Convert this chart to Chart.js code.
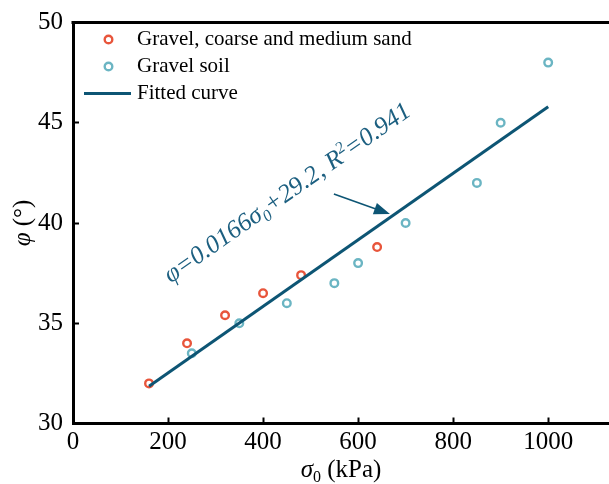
<!DOCTYPE html>
<html>
<head>
<meta charset="utf-8">
<script src="https://cdn.jsdelivr.net/npm/chart.js@4.4.1/dist/chart.umd.min.js"></script>
<style>
html, body { margin:0; padding:0; background:#fff; }
</style>
</head>
<body>
<canvas id="chartFirst" width="609" height="484"></canvas>
<script>
// ---- data
const sandX = [160, 240, 320, 400, 480, 640];
const sandY = [32, 34, 35.4, 36.5, 37.4, 38.8];
const soilX = [250, 350, 450, 550, 600, 700, 850, 900, 1000];
const soilY = [33.5, 35, 36, 37, 38, 40, 42, 45, 48];
// fitted: phi = 0.0166*sigma0 + 29.2
const fitX = [160, 1000];
const fitY = [31.86, 45.8];
const xTicks = [0, 200, 400, 600, 800, 1000];
const yTicks = [30, 35, 40, 45, 50];
const seriesNames = ['Gravel, coarse and medium sand', 'Gravel soil', 'Fitted curve'];
// annotation: text anchor and arrow (data units)
const noteAt = [460, 41.2];
const arrowFrom = [549, 41.45];
const arrowTo = [667, 40.45];

const FONT = '"Liberation Serif", "Times New Roman", serif';
const RED = '#e8553b';
const TEAL = '#6bb5c3';
const DARK = '#0d5574';

function toPoints(xs, ys){
  return xs.map((x, i) => ({x: x, y: ys[i]}));
}

// draw text made of pieces (normal / sub / sup)
function richWidth(c, parts, size, italic){
  let w = 0;
  parts.forEach(p => {
    let fs = (p[1] === 'n') ? size : size * 0.64;
    c.font = (p[2] !== undefined ? p[2] : italic ? 'italic ' : '') + fs + 'px ' + FONT;
    w += c.measureText(p[0]).width;
  });
  return w;
}
function drawRich(c, parts, x, y, size, italic){
  parts.forEach(p => {
    let fs = size, dy = 0;
    if (p[1] === 'sub'){ fs = size * 0.64; dy = size * 0.2; }
    if (p[1] === 'sup'){ fs = size * 0.64; dy = -size * 0.36; }
    c.font = (p[2] !== undefined ? p[2] : italic ? 'italic ' : '') + fs + 'px ' + FONT;
    c.fillText(p[0], x, y + dy);
    x += c.measureText(p[0]).width;
  });
}

const decorPlugin = {
  id: 'decor',
  afterDraw(chart){
    const c = chart.ctx, a = chart.chartArea;
    const xs = chart.scales.x, ys = chart.scales.y;
    c.save();

    // top frame line
    c.strokeStyle = '#000';
    c.lineWidth = 3;
    c.beginPath();
    c.moveTo(a.left - 1.5, a.top);
    c.lineTo(a.right, a.top);
    c.stroke();

    // legend
    c.textBaseline = 'middle';
    c.fillStyle = '#000';
    chart.data.datasets.forEach((ds, i) => {
      const y = a.top + 17 + i * 27;
      const cx = a.left + 35.5;
      c.strokeStyle = ds.borderColor;
      if (ds.type === 'line'){
        c.lineWidth = 3;
        c.beginPath();
        c.moveTo(a.left + 11, y);
        c.lineTo(a.left + 58, y);
        c.stroke();
      } else {
        c.lineWidth = 2.4;
        c.beginPath();
        c.arc(cx, y, 3.8, 0, Math.PI * 2);
        c.stroke();
      }
      c.font = '21px ' + FONT;
      c.fillText(ds.label, a.left + 64, y);
    });

    // axis titles
    c.textBaseline = 'alphabetic';
    c.fillStyle = '#000';
    const xParts = [['σ', 'n', 'italic '], ['0', 'sub', ''], [' (kPa)', 'n', '']];
    let w = richWidth(c, xParts, 25, false);
    drawRich(c, xParts, (a.left + a.right) / 2 - w / 2, 477, 25, false);

    const yParts = [['φ', 'n', 'italic '], [' (°)', 'n', '']];
    w = richWidth(c, yParts, 25, false);
    c.save();
    c.translate(30, (a.top + a.bottom) / 2);
    c.rotate(-Math.PI / 2);
    drawRich(c, yParts, -w / 2, 0, 25, false);
    c.restore();

    // equation along the fitted line
    const ang = Math.atan2(ys.getPixelForValue(fitY[1]) - ys.getPixelForValue(fitY[0]),
                           xs.getPixelForValue(fitX[1]) - xs.getPixelForValue(fitX[0]));
    const eq = [['φ=0.0166σ', 'n'], ['0', 'sub'], ['+29.2, ', 'n'], ['R', 'n'], ['2', 'sup'], ['=0.941', 'n']];
    c.fillStyle = '#1c5f80';
    c.save();
    c.translate(xs.getPixelForValue(noteAt[0]), ys.getPixelForValue(noteAt[1]));
    c.rotate(ang);
    w = richWidth(c, eq, 25.5, true);
    drawRich(c, eq, -w / 2, 0, 25.5, true);
    c.restore();

    // arrow
    const x1 = xs.getPixelForValue(arrowFrom[0]), y1 = ys.getPixelForValue(arrowFrom[1]);
    const x2 = xs.getPixelForValue(arrowTo[0]), y2 = ys.getPixelForValue(arrowTo[1]);
    const t = Math.atan2(y2 - y1, x2 - x1);
    c.strokeStyle = DARK;
    c.fillStyle = DARK;
    c.lineWidth = 1.6;
    c.beginPath();
    c.moveTo(x1, y1);
    c.lineTo(x2 - 12 * Math.cos(t), y2 - 12 * Math.sin(t));
    c.stroke();
    c.beginPath();
    c.moveTo(x2, y2);
    c.lineTo(x2 - 16 * Math.cos(t) + 6 * Math.sin(t), y2 - 16 * Math.sin(t) - 6 * Math.cos(t));
    c.lineTo(x2 - 16 * Math.cos(t) - 6 * Math.sin(t), y2 - 16 * Math.sin(t) + 6 * Math.cos(t));
    c.closePath();
    c.fill();

    c.restore();
  }
};

let chart1;
function drawFirstElement(){
  const ctx = document.getElementById('chartFirst').getContext('2d');
  if (chart1) {
    chart1.destroy();
  }
  chart1 = new Chart(ctx, {
    type: 'scatter',
    data: {
      datasets: [
        {label: seriesNames[0], data: toPoints(sandX, sandY), borderColor: RED, backgroundColor: 'rgba(0,0,0,0)',
         pointRadius: 3.8, pointBorderWidth: 2.4, pointHoverRadius: 3.8, order: 2},
        {label: seriesNames[1], data: toPoints(soilX, soilY), borderColor: TEAL, backgroundColor: 'rgba(0,0,0,0)',
         pointRadius: 3.8, pointBorderWidth: 2.4, pointHoverRadius: 3.8, order: 2},
        {label: seriesNames[2], type: 'line', data: toPoints(fitX, fitY), borderColor: DARK, borderWidth: 3,
         pointRadius: 0, fill: false, showLine: true, order: 1}
      ]
    },
    plugins: [decorPlugin],
    options: {
      responsive: false,
      animation: false,
      events: [],
      layout: {autoPadding: false, padding: {top: 22.5, right: 0, bottom: 0, left: 0}},
      plugins: {legend: {display: false}, tooltip: {enabled: false}},
      scales: {
        x: {
          type: 'linear', min: 0, max: 1128,
          afterBuildTicks: s => { s.ticks = xTicks.map(v => ({value: v})); },
          afterFit: s => { s.height = 60.5; s.paddingLeft = 0; s.paddingRight = 0; },
          border: {color: '#000', width: 3},
          grid: {drawOnChartArea: false, drawTicks: true, tickLength: -6, tickColor: '#000', tickWidth: 2},
          ticks: {color: '#000', font: {family: FONT, size: 25}, padding: 10, maxRotation: 0,
                  callback: v => String(v)}
        },
        y: {
          type: 'linear', min: 30, max: 50,
          afterBuildTicks: s => { s.ticks = yTicks.map(v => ({value: v})); },
          afterFit: s => { s.width = 73; s.paddingTop = 0; s.paddingBottom = 0; },
          border: {color: '#000', width: 3},
          grid: {drawOnChartArea: false, drawTicks: true, tickLength: -6, tickColor: '#000', tickWidth: 2},
          ticks: {color: '#000', font: {family: FONT, size: 25}, padding: 16,
                  callback: v => String(v)}
        }
      }
    }
  });
}

window.onload = function(){
  drawFirstElement();
}
</script>
</body>
</html>
